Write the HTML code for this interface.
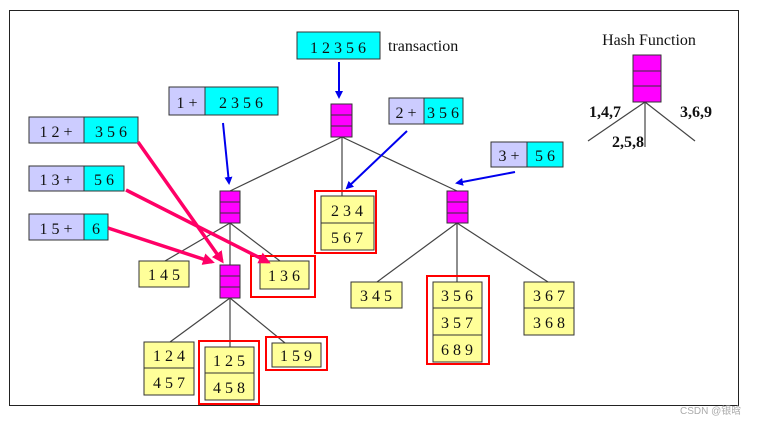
<!DOCTYPE html>
<html><head><style>
html,body{margin:0;padding:0;background:#fff;}
svg{display:block;}
text{font-family:"Liberation Serif",serif;font-size:16px;fill:#111;}
</style></head><body>
<svg width="761" height="423" viewBox="0 0 761 423">
<defs>
<marker id="ab" markerWidth="8" markerHeight="8" refX="6" refY="4" orient="auto" markerUnits="userSpaceOnUse"><path d="M0,0 L8,4 L0,8 Z" fill="#0000ee"/></marker>
<marker id="ar" markerWidth="12" markerHeight="12" refX="9" refY="6" orient="auto" markerUnits="userSpaceOnUse"><path d="M0,0 L12,6 L0,12 Z" fill="#ff0066"/></marker>
</defs>
<rect x="9.5" y="10.5" width="729" height="395" fill="none" stroke="#222" stroke-width="1"/>

<!-- tree lines -->
<g stroke="#444" stroke-width="1.2">
<line x1="342" y1="137" x2="230" y2="191"/>
<line x1="342" y1="137" x2="342" y2="196"/>
<line x1="342" y1="137" x2="457" y2="191"/>
<line x1="230" y1="223" x2="165" y2="261"/>
<line x1="230" y1="223" x2="230" y2="265"/>
<line x1="230" y1="223" x2="280" y2="261"/>
<line x1="230" y1="298" x2="170" y2="342"/>
<line x1="230" y1="298" x2="230" y2="347"/>
<line x1="230" y1="298" x2="285" y2="343"/>
<line x1="457" y1="223" x2="377" y2="282"/>
<line x1="457" y1="223" x2="457" y2="282"/>
<line x1="457" y1="223" x2="548" y2="282"/>
<line x1="645" y1="102" x2="588" y2="141"/>
<line x1="645" y1="102" x2="645" y2="147"/>
<line x1="645" y1="102" x2="695" y2="141"/>
</g>

<!-- transaction -->
<rect x="297" y="32" width="83" height="27" fill="#00ffff" stroke="#333"/>
<text x="338" y="53" text-anchor="middle" font-size="17">1 2 3 5 6</text>
<text x="388" y="51" font-size="15">transaction</text>

<!-- hash nodes -->
<g fill="#ff00ff" stroke="#333">
<rect x="331" y="104" width="21" height="11"/><rect x="331" y="115" width="21" height="11"/><rect x="331" y="126" width="21" height="11"/>
<rect x="220" y="191" width="20" height="11"/><rect x="220" y="202" width="20" height="11"/><rect x="220" y="213" width="20" height="10"/>
<rect x="220" y="265" width="20" height="11"/><rect x="220" y="276" width="20" height="11"/><rect x="220" y="287" width="20" height="11"/>
<rect x="447" y="191" width="21" height="11"/><rect x="447" y="202" width="21" height="11"/><rect x="447" y="213" width="21" height="10"/>
<rect x="633" y="55" width="28" height="16"/><rect x="633" y="71" width="28" height="15"/><rect x="633" y="86" width="28" height="16"/>
</g>

<!-- prefix boxes -->
<g stroke="#333">
<rect x="169" y="87" width="36" height="28" fill="#ccccff"/><rect x="205" y="87" width="73" height="28" fill="#00ffff"/>
<rect x="29" y="117" width="55" height="26" fill="#ccccff"/><rect x="84" y="117" width="54" height="26" fill="#00ffff"/>
<rect x="29" y="166" width="55" height="25" fill="#ccccff"/><rect x="84" y="166" width="40" height="25" fill="#00ffff"/>
<rect x="29" y="214" width="55" height="26" fill="#ccccff"/><rect x="84" y="214" width="24" height="26" fill="#00ffff"/>
<rect x="389" y="98" width="35" height="26" fill="#ccccff"/><rect x="424" y="98" width="39" height="26" fill="#00ffff"/>
<rect x="491" y="142" width="36" height="25" fill="#ccccff"/><rect x="527" y="142" width="36" height="25" fill="#00ffff"/>
</g>
<g font-size="17">
<text x="187" y="108" text-anchor="middle">1 +</text><text x="241" y="108" text-anchor="middle">2 3 5 6</text>
<text x="56" y="137" text-anchor="middle">1 2 +</text><text x="111" y="137" text-anchor="middle">3 5 6</text>
<text x="56" y="185" text-anchor="middle">1 3 +</text><text x="104" y="185" text-anchor="middle">5 6</text>
<text x="56" y="234" text-anchor="middle">1 5 +</text><text x="96" y="234" text-anchor="middle">6</text>
<text x="406" y="118" text-anchor="middle">2 +</text><text x="443" y="118" text-anchor="middle">3 5 6</text>
<text x="509" y="161" text-anchor="middle">3 +</text><text x="545" y="161" text-anchor="middle">5 6</text>
</g>

<!-- red outlines -->
<g fill="none" stroke="#ff0000" stroke-width="2">
<rect x="315" y="191" width="61" height="62"/>
<rect x="251" y="256" width="64" height="41"/>
<rect x="199" y="341" width="60" height="63"/>
<rect x="266" y="337" width="61" height="33"/>
<rect x="427" y="276" width="62" height="88"/>
</g>

<!-- leaves -->
<g fill="#ffff99" stroke="#333">
<rect x="321" y="196" width="53" height="27"/><rect x="321" y="223" width="53" height="27"/>
<rect x="139" y="261" width="50" height="26"/>
<rect x="260" y="261" width="49" height="28"/>
<rect x="144" y="342" width="50" height="26"/><rect x="144" y="368" width="50" height="27"/>
<rect x="205" y="347" width="49" height="26"/><rect x="205" y="373" width="49" height="27"/>
<rect x="272" y="343" width="49" height="24"/>
<rect x="351" y="282" width="51" height="26"/>
<rect x="433" y="282" width="49" height="26"/><rect x="433" y="308" width="49" height="27"/><rect x="433" y="335" width="49" height="27"/>
<rect x="524" y="282" width="50" height="26"/><rect x="524" y="308" width="50" height="27"/>
</g>
<g font-size="16" text-anchor="middle">
<text x="347" y="216">2 3 4</text><text x="347" y="243">5 6 7</text>
<text x="164" y="280">1 4 5</text>
<text x="284" y="281">1 3 6</text>
<text x="169" y="361">1 2 4</text><text x="169" y="388">4 5 7</text>
<text x="229" y="366">1 2 5</text><text x="229" y="393">4 5 8</text>
<text x="296" y="361">1 5 9</text>
<text x="376" y="301">3 4 5</text>
<text x="457" y="301">3 5 6</text><text x="457" y="328">3 5 7</text><text x="457" y="355">6 8 9</text>
<text x="549" y="301">3 6 7</text><text x="549" y="328">3 6 8</text>
</g>

<!-- blue arrows -->
<g stroke="#0000ee" stroke-width="2" marker-end="url(#ab)">
<line x1="339" y1="62" x2="339" y2="97"/>
<line x1="223" y1="123" x2="229" y2="183"/>
<line x1="407" y1="131" x2="347" y2="188"/>
<line x1="515" y1="172" x2="457" y2="183"/>
</g>
<!-- red arrows -->
<g stroke="#ff0066" stroke-width="3.5" marker-end="url(#ar)">
<line x1="138" y1="142" x2="222" y2="261"/>
<line x1="126" y1="190" x2="268" y2="262"/>
<line x1="108" y1="228" x2="212" y2="262"/>
</g>

<!-- hash function -->
<text x="649" y="45" text-anchor="middle" font-size="14">Hash Function</text>
<g font-size="13" font-weight="bold">
<text x="589" y="117">1,4,7</text>
<text x="612" y="147">2,5,8</text>
<text x="680" y="117">3,6,9</text>
</g>
<text x="680" y="414" style="font-family:'Liberation Sans','Noto Sans CJK SC',sans-serif;font-size:10px;fill:#aaa">CSDN @银晗</text>
</svg>
</body></html>
